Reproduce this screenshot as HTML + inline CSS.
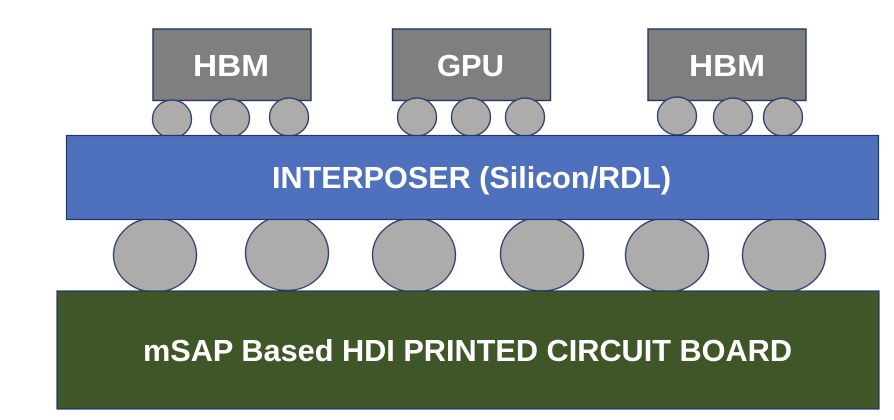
<!DOCTYPE html>
<html>
<head>
<meta charset="utf-8">
<style>
html,body{margin:0;padding:0;background:#fff;width:894px;height:420px;overflow:hidden}
svg{display:block}
text{font-family:"Liberation Sans",sans-serif;font-weight:bold;fill:#fff}
.e{fill:#aeabab;stroke:#2f4470;stroke-width:1.4}
.g{fill:#7f7f7f;stroke:#1f3864;stroke-width:1.4}
</style>
</head>
<body>
<svg width="894" height="420" viewBox="0 0 894 420" xmlns="http://www.w3.org/2000/svg">
<rect class="g" x="153" y="29" width="158" height="71.500"/>
<rect class="g" x="392.500" y="29" width="158" height="71.500"/>
<rect class="g" x="648" y="29" width="158" height="71.500"/>
<ellipse class="e" cx="172" cy="119" rx="19.500" ry="19"/>
<ellipse class="e" cx="230" cy="118" rx="19.500" ry="19"/>
<ellipse class="e" cx="289" cy="117" rx="19.500" ry="19"/>
<ellipse class="e" cx="417" cy="117" rx="19.500" ry="19"/>
<ellipse class="e" cx="471" cy="117" rx="19.500" ry="19"/>
<ellipse class="e" cx="525" cy="117" rx="19.500" ry="19"/>
<ellipse class="e" cx="677" cy="116" rx="19.500" ry="19"/>
<ellipse class="e" cx="733" cy="117" rx="19.500" ry="19"/>
<ellipse class="e" cx="783" cy="117" rx="19.500" ry="19"/>
<ellipse class="e" cx="155" cy="255" rx="41.500" ry="37"/>
<ellipse class="e" cx="287" cy="253" rx="41.500" ry="37.500"/>
<ellipse class="e" cx="414" cy="255" rx="41.500" ry="37"/>
<ellipse class="e" cx="542" cy="254" rx="41.500" ry="37"/>
<ellipse class="e" cx="667" cy="255" rx="41.500" ry="37"/>
<ellipse class="e" cx="784" cy="255" rx="41.500" ry="37"/>
<rect x="66.500" y="135.500" width="812" height="84" fill="#4e70bd" stroke="#1f3864" stroke-width="1.200"/>
<rect x="57" y="291" width="822" height="118" fill="#3f5628" stroke="#1f3864" stroke-width="1.200"/>
<text x="193" y="76" font-size="31" textLength="76" lengthAdjust="spacingAndGlyphs">HBM</text>
<text x="437" y="76" font-size="31" textLength="67" lengthAdjust="spacingAndGlyphs">GPU</text>
<text x="689" y="76" font-size="31" textLength="76" lengthAdjust="spacingAndGlyphs">HBM</text>
<text x="272" y="188" font-size="31" textLength="399" lengthAdjust="spacingAndGlyphs">INTERPOSER (Silicon/RDL)</text>
<text x="143" y="361" font-size="31" textLength="649" lengthAdjust="spacingAndGlyphs">mSAP Based HDI PRINTED CIRCUIT BOARD</text>
</svg>
</body>
</html>
